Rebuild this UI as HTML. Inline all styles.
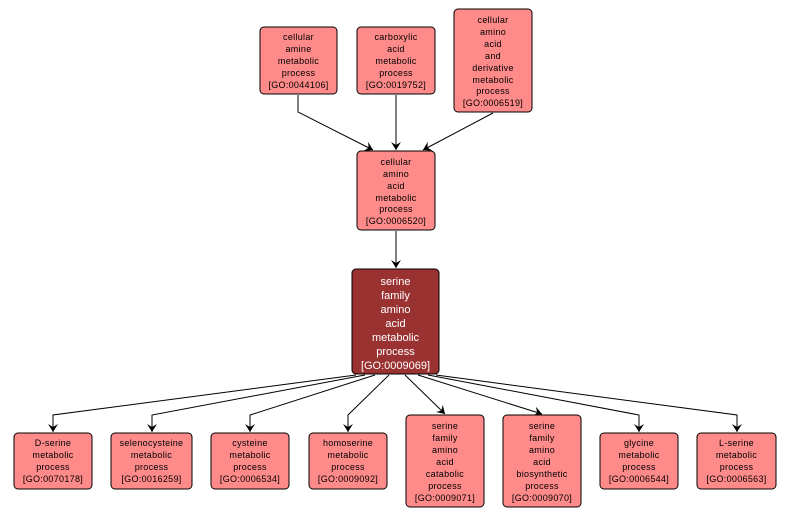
<!DOCTYPE html>
<html><head><style>
body{margin:0;background:#fff;}
svg{display:block;font-family:"Liberation Sans",Arial,sans-serif;}
.b{fill:#ff8a8a;stroke:#000;stroke-width:1}
.t{font-size:9px;fill:#000;text-anchor:middle;letter-spacing:0.3px}
.w{font-size:11px;fill:#fff;text-anchor:middle}
.e{stroke:#000;fill:none;stroke-width:1}
</style></head><body>
<svg width="792" height="517" viewBox="0 0 792 517">
<defs><marker id="a" markerWidth="10" markerHeight="10" refX="8" refY="5" orient="auto" markerUnits="userSpaceOnUse"><path d="M0,0 L8,5 L0,10 L3,5 Z" fill="#000"/></marker></defs>
<!-- edges top -->
<path class="e" d="M298,95 L298,112 L373,150" marker-end="url(#a)"/>
<path class="e" d="M396,95 L396,150" marker-end="url(#a)"/>
<path class="e" d="M493,113 L423,150" marker-end="url(#a)"/>
<path class="e" d="M396,231 L396,268" marker-end="url(#a)"/>
<!-- edges bottom -->
<path class="e" d="M356,375 L53,415 L53,432" marker-end="url(#a)"/>
<path class="e" d="M365,375 L152,415 L152,432" marker-end="url(#a)"/>
<path class="e" d="M375,375 L250,415 L250,432" marker-end="url(#a)"/>
<path class="e" d="M389,375 L348,415 L348,432" marker-end="url(#a)"/>
<path class="e" d="M405,375 L445,414" marker-end="url(#a)"/>
<path class="e" d="M418,375 L542,414" marker-end="url(#a)"/>
<path class="e" d="M428,375 L639,415 L639,432" marker-end="url(#a)"/>
<path class="e" d="M436,375 L737,415 L737,432" marker-end="url(#a)"/>
<!-- top nodes -->
<rect class="b" x="260" y="27" width="77" height="67" rx="4"/>
<text class="t" x="298.5"><tspan x="298.5" y="40">cellular</tspan><tspan x="298.5" y="52">amine</tspan><tspan x="298.5" y="64">metabolic</tspan><tspan x="298.5" y="76">process</tspan><tspan x="298.5" y="88">[GO:0044106]</tspan></text>
<rect class="b" x="357" y="27" width="78" height="67" rx="4"/>
<text class="t"><tspan x="396" y="40">carboxylic</tspan><tspan x="396" y="52">acid</tspan><tspan x="396" y="64">metabolic</tspan><tspan x="396" y="76">process</tspan><tspan x="396" y="88">[GO:0019752]</tspan></text>
<rect class="b" x="454" y="9" width="78" height="103" rx="4"/>
<text class="t"><tspan x="493" y="23">cellular</tspan><tspan x="493" y="35">amino</tspan><tspan x="493" y="47">acid</tspan><tspan x="493" y="59">and</tspan><tspan x="493" y="71">derivative</tspan><tspan x="493" y="83">metabolic</tspan><tspan x="493" y="94">process</tspan><tspan x="493" y="106">[GO:0006519]</tspan></text>
<rect class="b" x="357" y="151" width="78" height="79" rx="4"/>
<text class="t"><tspan x="396" y="165">cellular</tspan><tspan x="396" y="177">amino</tspan><tspan x="396" y="189">acid</tspan><tspan x="396" y="201">metabolic</tspan><tspan x="396" y="212">process</tspan><tspan x="396" y="224">[GO:0006520]</tspan></text>
<rect x="352" y="269" width="87" height="105" rx="4" fill="#9a3232" stroke="#000"/>
<text class="w"><tspan x="395.5" y="285">serine</tspan><tspan x="395.5" y="299">family</tspan><tspan x="395.5" y="313">amino</tspan><tspan x="395.5" y="327">acid</tspan><tspan x="395.5" y="341">metabolic</tspan><tspan x="395.5" y="355">process</tspan><tspan x="395.5" y="369">[GO:0009069]</tspan></text>
<!-- bottom nodes -->
<rect class="b" x="14" y="433" width="78" height="56" rx="4"/>
<text class="t"><tspan x="53" y="446">D-serine</tspan><tspan x="53" y="458">metabolic</tspan><tspan x="53" y="470">process</tspan><tspan x="53" y="482">[GO:0070178]</tspan></text>
<rect class="b" x="111" y="433" width="81" height="56" rx="4"/>
<text class="t"><tspan x="151.5" y="446">selenocysteine</tspan><tspan x="151.5" y="458">metabolic</tspan><tspan x="151.5" y="470">process</tspan><tspan x="151.5" y="482">[GO:0016259]</tspan></text>
<rect class="b" x="211" y="433" width="78" height="56" rx="4"/>
<text class="t"><tspan x="250" y="446">cysteine</tspan><tspan x="250" y="458">metabolic</tspan><tspan x="250" y="470">process</tspan><tspan x="250" y="482">[GO:0006534]</tspan></text>
<rect class="b" x="309" y="433" width="78" height="56" rx="4"/>
<text class="t"><tspan x="348" y="446">homoserine</tspan><tspan x="348" y="458">metabolic</tspan><tspan x="348" y="470">process</tspan><tspan x="348" y="482">[GO:0009092]</tspan></text>
<rect class="b" x="406" y="415" width="78" height="92" rx="4"/>
<text class="t"><tspan x="445" y="429">serine</tspan><tspan x="445" y="441">family</tspan><tspan x="445" y="453">amino</tspan><tspan x="445" y="465">acid</tspan><tspan x="445" y="477">catabolic</tspan><tspan x="445" y="489">process</tspan><tspan x="445" y="501">[GO:0009071]</tspan></text>
<rect class="b" x="503" y="415" width="78" height="92" rx="4"/>
<text class="t"><tspan x="542" y="429">serine</tspan><tspan x="542" y="441">family</tspan><tspan x="542" y="453">amino</tspan><tspan x="542" y="465">acid</tspan><tspan x="542" y="477">biosynthetic</tspan><tspan x="542" y="489">process</tspan><tspan x="542" y="501">[GO:0009070]</tspan></text>
<rect class="b" x="600" y="433" width="78" height="56" rx="4"/>
<text class="t"><tspan x="639" y="446">glycine</tspan><tspan x="639" y="458">metabolic</tspan><tspan x="639" y="470">process</tspan><tspan x="639" y="482">[GO:0006544]</tspan></text>
<rect class="b" x="697" y="433" width="79" height="56" rx="4"/>
<text class="t"><tspan x="736.5" y="446">L-serine</tspan><tspan x="736.5" y="458">metabolic</tspan><tspan x="736.5" y="470">process</tspan><tspan x="736.5" y="482">[GO:0006563]</tspan></text>
</svg>
</body></html>
